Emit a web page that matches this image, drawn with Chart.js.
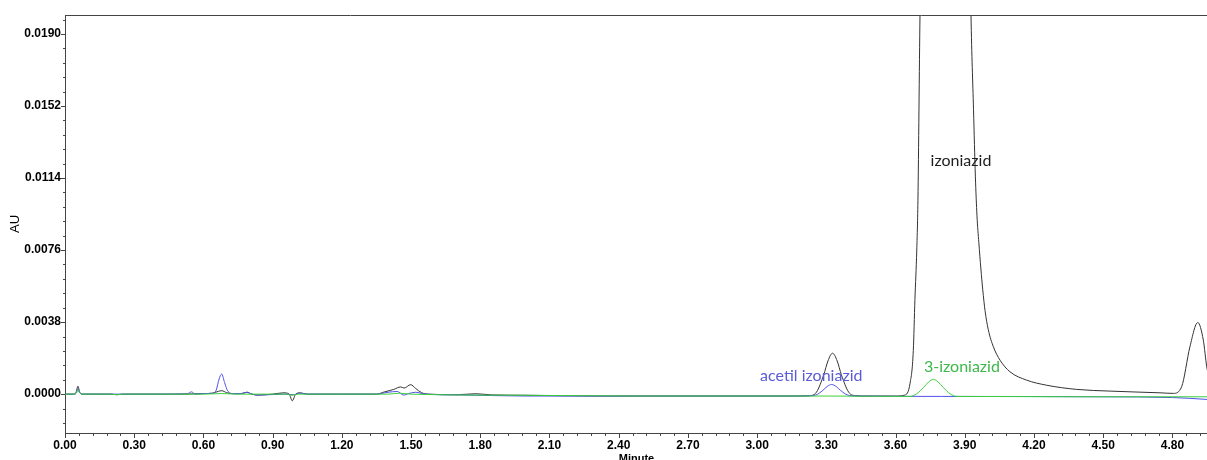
<!DOCTYPE html>
<html>
<head>
<meta charset="utf-8">
<script src="https://cdn.jsdelivr.net/npm/chart.js@4.4.1/dist/chart.umd.min.js"></script>
<style>
  html, body { margin: 0; padding: 0; background: #fff; }
  #wrap { width: 1207px; height: 460px; }
</style>
</head>
<body>
<div id="wrap"><canvas id="chrom" width="1207" height="460"></canvas></div>
<script>
var xTicks = [0.00, 0.30, 0.60, 0.90, 1.20, 1.50, 1.80, 2.10, 2.40, 2.70, 3.00, 3.30, 3.60, 3.90, 4.20, 4.50, 4.80];
var yTicks = [0.0000, 0.0038, 0.0076, 0.0114, 0.0152, 0.0190];

// sample trace (black)
var blackTime = [0, 0.035, 0.048, 0.056, 0.064, 0.078, 0.2, 0.225, 0.25, 0.5, 0.6, 0.64, 0.665, 0.68, 0.70, 0.73, 0.765, 0.788, 0.81, 0.835,
  0.9, 0.948, 0.972, 0.985, 1.0, 1.02, 1.05, 1.2, 1.35, 1.385, 1.425, 1.455, 1.47, 1.498, 1.52, 1.545, 1.575, 1.7, 1.78, 1.85,
  2.0, 2.3, 2.8, 3.15, 3.227, 3.257, 3.289, 3.307, 3.327, 3.347, 3.365, 3.397, 3.427, 3.46, 3.6, 3.64, 3.663, 3.677, 3.684, 3.692,
  3.697, 3.706, 3.72, 3.82, 3.915, 3.927, 3.938, 3.946, 3.953, 3.961, 3.970, 3.978, 3.988, 4.002, 4.024, 4.053, 4.096, 4.168, 4.255, 4.385,
  4.53, 4.746, 4.804, 4.84, 4.876, 4.91, 4.934, 4.949, 4.97];
var blackAU = [0, 0, 0.0001, 0.00042, 0.0001, 0, 0, -0.00003, 0, 0, 0.00003, 0.00005, 0.00015, 0.00018, 0.00008, 0.00002, 0.00003, 0.0001, 0, -0.00005,
  0, 0.00007, 0, -0.00035, 0, 0.00007, 0, 0, 0, 0.00012, 0.00025, 0.00038, 0.00032, 0.0005, 0.0003, 0.00008, 0, -0.00003, 0.00002, -0.00004,
  -0.00006, -0.0001, -0.0001, -0.0001, -0.00008, 0.0001, 0.00103, 0.00175, 0.00216, 0.00175, 0.00103, 0.0001, -0.00008, -0.0001, -0.0001, -0.00005, 0.00058, 0.0023, 0.005, 0.0076,
  0.0102, 0.020, 0.030, 0.040, 0.030, 0.020, 0.0150, 0.0115, 0.0094, 0.0080, 0.0066, 0.0055, 0.0044, 0.0034, 0.0025, 0.00179, 0.00118, 0.00074, 0.00047, 0.00025,
  0.00016, 0.00007, 0.00004, 0.00039, 0.0025, 0.00378, 0.00285, 0.00144, 0.0004];

// acetil izoniazid (blue)
var blueTime = [0, 0.04, 0.05, 0.056, 0.063, 0.078, 0.4, 0.53, 0.548, 0.565, 0.6, 0.64, 0.655, 0.668, 0.679, 0.692, 0.706, 0.73, 0.765, 0.788,
  0.81, 0.835, 0.95, 0.99, 1.02, 1.05, 1.35, 1.40, 1.44, 1.468, 1.49, 1.52, 1.56, 1.7, 2.0, 2.5, 3.2, 3.253, 3.285, 3.303,
  3.323, 3.343, 3.361, 3.393, 3.43, 3.8, 4.5, 4.8, 4.95, 4.97];
var blueAU = [0, 0, 0.00008, 0.0003, 0.00008, 0, 0, 0.00002, 0.00012, 0, 0.00003, 0.00005, 0.0002, 0.0008, 0.00106, 0.0006, 0.00015, 0.00003, 0.00003, 0.0001,
  0, -0.00005, 0, -0.00003, 0.00005, 0, 0, 0.0001, 0.00014, -0.00005, 0.00003, 0.0001, 0, -0.00004, -0.0001, -0.0001, -0.0001, -0.00005, 0.0002, 0.0004,
  0.00051, 0.0004, 0.0002, -0.00005, -0.0001, -0.00012, -0.00014, -0.00018, -0.00028, -0.0003];

// 3-izoniazid (green)
var greenTime = [0, 0.04, 0.05, 0.056, 0.063, 0.078, 0.2, 0.225, 0.25, 0.6, 0.68, 0.75, 0.96, 0.985, 1.01, 1.4, 1.45, 1.5, 2.0, 2.5,
  3.3, 3.662, 3.692, 3.722, 3.744, 3.764, 3.784, 3.806, 3.836, 3.866, 4.8, 4.97];
var greenAU = [0, 0, 0.00008, 0.00025, 0.00008, 0, 0, -0.00003, 0, 0, 0.00003, 0, 0, -0.00006, 0, 0, 0.00005, 0, -0.00006, -0.0001,
  -0.0001, -0.00012, 0.00002, 0.00036, 0.00065, 0.00078, 0.00065, 0.00036, 0.00002, -0.00012, -0.00014, -0.00014];

var peakNames = ['izoniazid', 'acetil izoniazid', '3-izoniazid'];
var peakLabelTime = [3.752, 3.013, 3.723];
var peakLabelAU = [0.0123, 0.00098, 0.00145];
var peakColors = ['#1e1e1e', '#5b5bd8', '#3cb84a'];

function pairs(xs, ys) {
  return xs.map(function(x, i) { return { x: x, y: ys[i] }; });
}

var framePlugin = {
  id: 'frame',
  afterDraw: function(chart) {
    var ctx = chart.ctx, a = chart.chartArea;
    var xs = chart.scales.x, ys = chart.scales.y;
    ctx.save();
    ctx.strokeStyle = '#444';
    ctx.lineWidth = 1;
    ctx.beginPath();
    ctx.moveTo(a.left, a.top + 0.5);
    ctx.lineTo(a.right, a.top + 0.5);
    // x ticks: major every 0.30, minor every 0.06
    for (var i = 0; i * 0.06 <= xs.max + 1e-9; i++) {
      var px = Math.round(xs.getPixelForValue(i * 0.06)) + 0.5;
      var len = (i % 5 === 0) ? 5 : 3;
      ctx.moveTo(px, a.bottom);
      ctx.lineTo(px, a.bottom + len);
    }
    // y ticks: major every 0.0038, minor every 0.00076
    var step = 0.00076;
    for (var k = Math.ceil(ys.min / step); k * step <= ys.max + 1e-12; k++) {
      var py = Math.round(ys.getPixelForValue(k * step)) + 0.5;
      var l = (k % 5 === 0) ? 4 : 2;
      ctx.moveTo(a.left - l, py);
      ctx.lineTo(a.left, py);
    }
    ctx.stroke();

    // axis titles
    ctx.fillStyle = '#000';
    ctx.font = 'bold 11px "Liberation Sans", Arial, sans-serif';
    ctx.textAlign = 'center';
    ctx.textBaseline = 'middle';
    ctx.fillText('Minute', (a.left + a.right) / 2 + 0.5, 459);
    ctx.save();
    ctx.translate(15, 224);
    ctx.rotate(-Math.PI / 2);
    ctx.font = '13px "Liberation Sans", Arial, sans-serif';
    ctx.fillText('AU', 0, 0);
    ctx.restore();

    // peak labels
    ctx.font = '16px Lato, "Noto Sans", sans-serif';
    ctx.textAlign = 'left';
    peakNames.forEach(function(name, i) {
      ctx.fillStyle = peakColors[i];
      ctx.fillText(name, xs.getPixelForValue(peakLabelTime[i]), ys.getPixelForValue(peakLabelAU[i]));
    });
    ctx.restore();
  }
};

var tickFont = { family: '"Liberation Sans", Arial, sans-serif', size: 12, weight: 'bold' };

new Chart(document.getElementById('chrom'), {
  type: 'line',
  data: {
    datasets: [
      { data: pairs(greenTime, greenAU), borderColor: '#3ad03a' },
      { data: pairs(blueTime, blueAU), borderColor: '#5050ee' },
      { data: pairs(blackTime, blackAU), borderColor: '#333333' }
    ]
  },
  options: {
    responsive: false,
    animation: false,
    layout: { padding: { top: 15, right: 0, left: 0, bottom: 0 } },
    plugins: { legend: { display: false }, tooltip: { enabled: false } },
    elements: {
      point: { radius: 0 },
      line: { borderWidth: 1, cubicInterpolationMode: 'monotone', fill: false }
    },
    scales: {
      x: {
        type: 'linear', min: 0, max: 4.95,
        afterBuildTicks: function(s) { s.ticks = xTicks.map(function(v) { return { value: v }; }); },
        afterFit: function(s) { s.height = 27; },
        ticks: { callback: function(v) { return v.toFixed(2); }, font: tickFont, color: '#000', padding: 5, maxRotation: 0, autoSkip: false },
        grid: { display: false, drawTicks: false },
        border: { display: true, color: '#444', width: 1 }
      },
      y: {
        type: 'linear', min: -0.00205, max: 0.020,
        afterBuildTicks: function(s) { s.ticks = yTicks.map(function(v) { return { value: v }; }); },
        afterFit: function(s) { s.width = 65; },
        ticks: { callback: function(v) { return v.toFixed(4); }, font: tickFont, color: '#000', padding: 4, autoSkip: false },
        grid: { display: false, drawTicks: false },
        border: { display: true, color: '#444', width: 1 }
      }
    }
  },
  plugins: [framePlugin]
});
</script>
</body>
</html>
